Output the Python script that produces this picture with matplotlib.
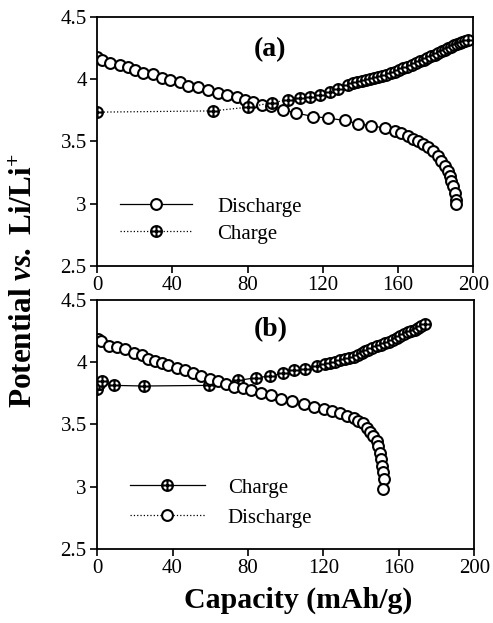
import matplotlib
matplotlib.use("Agg")
import matplotlib.pyplot as plt
from matplotlib.path import Path

plt.rcParams['font.family'] = ['Liberation Serif', 'DejaVu Serif']
plt.rcParams['mathtext.fontset'] = 'custom'
plt.rcParams['mathtext.rm'] = 'Liberation Serif'
plt.rcParams['mathtext.it'] = 'Liberation Serif:italic'
plt.rcParams['mathtext.bf'] = 'Liberation Serif:bold'
plt.rcParams['mathtext.bfit'] = 'Liberation Serif:italic:bold'

# panel (a)
a_dis_x = [0, 2.7, 6.9, 12.2, 16.6, 20.2, 24.6, 29.9, 34.3, 38.8, 44.1, 48.5, 53.8, 59.1, 64.4,
           68.8, 74.2, 78.6, 83.0, 87.4, 92.7, 98.9, 106.0, 114.9, 122.8, 131.7, 138.8, 145.8,
           152.9, 158.2, 161.8, 165.3, 168.0, 170.6, 173.3, 176.0, 178.6, 181.2, 183.0, 184.8,
           186.5, 187.4, 188.3, 189.2, 190.1, 190.6, 191.0]
a_dis_y = [4.18, 4.155, 4.128, 4.115, 4.10, 4.075, 4.053, 4.043, 4.008, 3.995, 3.973, 3.947,
           3.936, 3.914, 3.888, 3.874, 3.856, 3.834, 3.813, 3.794, 3.781, 3.754, 3.727, 3.70,
           3.687, 3.668, 3.642, 3.626, 3.607, 3.580, 3.567, 3.540, 3.519, 3.50, 3.481, 3.455,
           3.420, 3.380, 3.340, 3.30, 3.259, 3.219, 3.179, 3.139, 3.085, 3.032, 3.0]
a_chg_x = [0, 61.7, 80.3, 92.9, 101.4, 107.8, 113.1, 118.4, 123.7, 128.0, 133.3, 136.1, 138.4,
           140.7, 143.0, 145.0, 147.3, 149.5, 151.7, 153.8, 156.0, 158.3, 160.5, 162.7, 165.0,
           167.2, 169.4, 171.5, 173.6, 175.6, 177.6, 179.5, 181.4, 183.2, 185.0, 186.5, 188.2,
           189.8, 191.3, 192.7, 194.0, 195.5, 197.2]
a_chg_y = [3.735, 3.745, 3.775, 3.81, 3.834, 3.85, 3.858, 3.874, 3.90, 3.92, 3.955, 3.968,
           3.975, 3.983, 3.992, 4.0, 4.008, 4.017, 4.026, 4.035, 4.046, 4.058, 4.073, 4.088,
           4.101, 4.115, 4.128, 4.142, 4.155, 4.168, 4.182, 4.195, 4.209, 4.222, 4.236, 4.249,
           4.26, 4.27, 4.28, 4.289, 4.297, 4.304, 4.31]

# panel (b)
b_dis_x = [0.35, 1.8, 6.1, 10.5, 14.9, 19.3, 23.7, 27.2, 30.7, 34.2, 37.7, 42.1, 46.5, 50.9,
           55.3, 59.6, 64.0, 68.4, 72.8, 77.2, 81.6, 86.8, 92.1, 97.4, 103.5, 109.6, 114.9,
           120.2, 124.6, 128.9, 132.5, 136.0, 138.6, 141.2, 143.0, 144.7, 146.5, 148.2, 149.1,
           150.0, 150.5, 151.2, 151.8, 152.1, 151.8]
b_dis_y = [4.185, 4.167, 4.132, 4.121, 4.105, 4.073, 4.052, 4.025, 4.007, 3.993, 3.972, 3.953,
           3.935, 3.913, 3.887, 3.86, 3.847, 3.825, 3.801, 3.793, 3.775, 3.753, 3.732, 3.705,
           3.687, 3.66, 3.641, 3.62, 3.607, 3.588, 3.567, 3.548, 3.527, 3.508, 3.473, 3.439,
           3.407, 3.367, 3.327, 3.273, 3.22, 3.167, 3.113, 3.06, 2.98]
b_chg_x = [0, 0.9, 2.6, 8.8, 24.6, 59.3, 74.6, 84.2, 91.6, 98.6, 104.4, 110.5, 116.7,
           121.1, 123.7, 126.3, 129.0, 131.6, 133.8, 136.0, 138.2, 140.4, 142.2, 143.9, 146.0,
           148.2, 150.4, 152.6, 154.8, 157.0, 158.8, 160.5, 162.7, 164.9, 166.7, 168.4, 170.2,
           171.9, 173.7]
b_chg_y = [3.785, 3.82, 3.847, 3.812, 3.807, 3.812, 3.852, 3.873, 3.887, 3.908, 3.935, 3.94,
           3.967, 3.98, 3.99, 3.999, 4.012, 4.025, 4.033, 4.041, 4.057, 4.073, 4.084, 4.095,
           4.111, 4.127, 4.14, 4.153, 4.164, 4.175, 4.19, 4.207, 4.223, 4.239, 4.25, 4.26,
           4.274, 4.287, 4.308]

x_ticks = [0, 40, 80, 120, 160, 200]
y_ticks = [2.5, 3, 3.5, 4, 4.5]
y_ticklabels = ['2.5', '3', '3.5', '4', '4.5']

# circle with a cross inside
circ = Path.unit_circle()
cross = Path([[-1, 0], [1, 0], [0, -1], [0, 1]],
             [Path.MOVETO, Path.LINETO, Path.MOVETO, Path.LINETO])
oplus = Path.make_compound_path(circ, cross)

ms = 7.8
mew = 1.5
circle_kw = dict(marker='o', ms=ms, mfc='white', mec='black', mew=mew, color='black', lw=0.9)
oplus_kw = dict(marker=oplus, ms=ms, mfc='white', mec='black', mew=mew, color='black', lw=0.9)


def style_axes(ax):
    ax.set_xlim(0, 200)
    ax.set_ylim(2.5, 4.5)
    ax.set_xticks(x_ticks)
    ax.set_yticks(y_ticks)
    ax.set_yticklabels(y_ticklabels)
    ax.tick_params(direction='out', length=5, width=1.2, labelsize=15, pad=2.5,
                   top=False, right=False)
    for s in ax.spines.values():
        s.set_linewidth(1.3)


fig = plt.figure(figsize=(4.93, 6.23), dpi=100)

ax1 = fig.add_axes([0.197, 0.573, 0.763, 0.400])
l1, = ax1.plot(a_dis_x, a_dis_y, ls='-', label='Discharge', **circle_kw)
l2, = ax1.plot(a_chg_x, a_chg_y, ls=':', label='Charge', **oplus_kw)
style_axes(ax1)
ax1.text(92, 4.235, '(a)', fontsize=20, fontweight='bold', ha='center', va='center')
ax1.legend(handles=[l1, l2], loc='lower left', bbox_to_anchor=(0.061, 0.09), frameon=False,
           fontsize=15, numpoints=1, handlelength=3.45, handletextpad=1.2,
           labelspacing=0.35, borderpad=0, borderaxespad=0)

ax2 = fig.add_axes([0.197, 0.119, 0.765, 0.400])
l3, = ax2.plot(b_chg_x, b_chg_y, ls='-', label='Charge', **oplus_kw)
l4, = ax2.plot(b_dis_x, b_dis_y, ls=':', label='Discharge', **circle_kw)
style_axes(ax2)
ax2.text(92, 4.26, '(b)', fontsize=20, fontweight='bold', ha='center', va='center')
ax2.legend(handles=[l3, l4], loc='lower left', bbox_to_anchor=(0.087, 0.085), frameon=False,
           fontsize=15, numpoints=1, handlelength=3.6, handletextpad=1.1,
           labelspacing=0.5, borderpad=0, borderaxespad=0)

fig.text(0.05, 0.55, r'$\mathbf{Potential}\ \mathbfit{vs.}\ \mathbf{Li/Li^{+}}$',
         rotation=90, fontsize=22.5, ha='center', va='center')
fig.text(0.605, 0.024, 'Capacity (mAh/g)', fontsize=21.5, fontweight='bold',
         ha='center', va='baseline')

fig.savefig('out.png', dpi=100)
